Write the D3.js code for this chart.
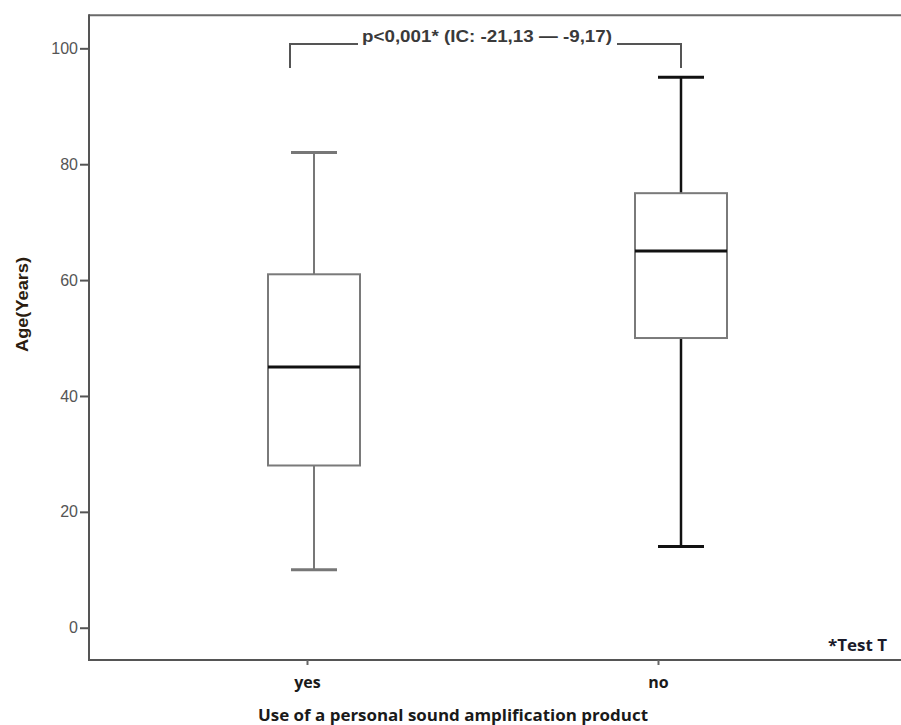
<!DOCTYPE html>
<html><head><meta charset="utf-8">
<script src="https://cdn.jsdelivr.net/npm/d3@7"></script>
<style>body{margin:0;background:#fff}svg{display:block}</style>
</head><body>
<script>
const categories = ["yes", "no"];
const minVals = [10, 14];
const q1Vals = [28, 50];
const medianVals = [45, 65];
const q3Vals = [61, 75];
const maxVals = [82, 95];
const yTicks = [0, 20, 40, 60, 80, 100];
const yTickLabels = ["0", "20", "40", "60", "80", "100"];
const xTitle = "Use of a personal sound amplification  product";
const yTitle = "Age(Years)";
const annotation = "p<0,001* (IC: -21,13 \u2014 -9,17)";
const footnote = "*Test T";

(function () {
const W = 901, H = 725;
const svg = d3.select("body").append("svg").attr("width", W).attr("height", H);

const plotLeft = 89, plotTop = 15.3, plotBottom = 660;
const y = d3.scaleLinear().domain([-5.57, 105.7]).range([plotBottom, plotTop]);
const x = d3.scalePoint().domain(categories).range([314, 681]);
const xAxisPos = d3.scalePoint().domain(categories).range([307, 658]);
const boxW = 92, capW = 46;

const data = categories.map((c, i) => ({c, i, min: minVals[i], q1: q1Vals[i], med: medianVals[i], q3: q3Vals[i], max: maxVals[i]}));

// frame
svg.append("line").attr("x1", plotLeft).attr("x2", W).attr("y1", plotTop).attr("y2", plotTop)
  .attr("stroke", "#6a6a6a").attr("stroke-width", 2);
svg.append("line").attr("x1", plotLeft).attr("x2", plotLeft).attr("y1", plotTop - 1).attr("y2", plotBottom + 1)
  .attr("stroke", "#555").attr("stroke-width", 2);
svg.append("line").attr("x1", plotLeft).attr("x2", W).attr("y1", plotBottom).attr("y2", plotBottom)
  .attr("stroke", "#555").attr("stroke-width", 2);

// y axis
const yAxis = d3.axisLeft(y).tickValues(yTicks).tickFormat((d, i) => yTickLabels[i]).tickSize(9).tickPadding(2);
const gy = svg.append("g").attr("transform", `translate(${plotLeft},0)`).call(yAxis);
gy.select(".domain").remove();
gy.selectAll(".tick line").attr("stroke", "#555").attr("stroke-width", 2);
gy.selectAll(".tick text").attr("fill", "#555").style("font-family", "Liberation Sans, Arial, sans-serif").style("font-size", "16px");

// x axis
const xAxis = d3.axisBottom(xAxisPos).tickSize(5).tickPadding(12);
const gx = svg.append("g").attr("transform", `translate(0,${plotBottom})`).call(xAxis);
gx.select(".domain").remove();
gx.selectAll(".tick line").attr("stroke", "#666").attr("stroke-width", 2);
gx.selectAll(".tick text").attr("fill", "#1a1a1a").style("font-family", "Open Sans, sans-serif")
  .style("font-weight", "bold").style("font-size", "16px");

// boxes
const whiskColor = ["#777", "#111"];
const whiskW = [2, 2.5];
const g = svg.append("g");
data.forEach(d => {
  const cx = x(d.c);
  g.append("line").attr("x1", cx).attr("x2", cx).attr("y1", y(d.max)).attr("y2", y(d.q3))
    .attr("stroke", whiskColor[d.i]).attr("stroke-width", whiskW[d.i]);
  g.append("line").attr("x1", cx).attr("x2", cx).attr("y1", y(d.q1)).attr("y2", y(d.min))
    .attr("stroke", whiskColor[d.i]).attr("stroke-width", whiskW[d.i]);
  g.append("line").attr("x1", cx - capW / 2).attr("x2", cx + capW / 2).attr("y1", y(d.max)).attr("y2", y(d.max))
    .attr("stroke", whiskColor[d.i]).attr("stroke-width", 3);
  g.append("line").attr("x1", cx - capW / 2).attr("x2", cx + capW / 2).attr("y1", y(d.min)).attr("y2", y(d.min))
    .attr("stroke", whiskColor[d.i]).attr("stroke-width", 3);
  g.append("rect").attr("x", cx - boxW / 2).attr("y", y(d.q3)).attr("width", boxW).attr("height", y(d.q1) - y(d.q3))
    .attr("fill", "#fff").attr("stroke", "#7a7a7a").attr("stroke-width", 2);
  g.append("line").attr("x1", cx - boxW / 2).attr("x2", cx + boxW / 2).attr("y1", y(d.med)).attr("y2", y(d.med))
    .attr("stroke", "#111").attr("stroke-width", 3);
});

// bracket annotation
const by = 44, bEnd = 68;
const xl = x("yes") - 24, xr = x("no");
svg.append("path").attr("d", `M${xl},${bEnd}V${by}H358`).attr("fill", "none").attr("stroke", "#555").attr("stroke-width", 2);
svg.append("path").attr("d", `M617,${by}H${xr}V${bEnd}`).attr("fill", "none").attr("stroke", "#555").attr("stroke-width", 2);
svg.append("text").attr("x", 362).attr("y", 42)
  .attr("textLength", 250).attr("lengthAdjust", "spacingAndGlyphs")
  .attr("fill", "#3a3a3a").style("font-family", "Liberation Sans, Arial, sans-serif")
  .style("font-weight", "bold").style("font-size", "17px").text(annotation);

// footnote
svg.append("text").attr("x", 828).attr("y", 651)
  .attr("textLength", 59).attr("lengthAdjust", "spacingAndGlyphs")
  .attr("fill", "#1a1a2a").style("font-family", "Open Sans, sans-serif").style("font-weight", "bold")
  .style("font-size", "16px").text(footnote);

// titles
svg.append("text").attr("x", 258).attr("y", 721)
  .attr("textLength", 390).attr("lengthAdjust", "spacingAndGlyphs")
  .attr("fill", "#1a1a1a").style("font-family", "Open Sans, sans-serif").style("font-weight", "bold")
  .style("font-size", "16px").text(xTitle);
svg.append("text").attr("transform", "translate(28,352) rotate(-90)")
  .attr("textLength", 95).attr("lengthAdjust", "spacingAndGlyphs")
  .attr("fill", "#2b1d10").style("font-family", "Liberation Sans, Arial, sans-serif").style("font-weight", "bold")
  .style("font-size", "16px").text(yTitle);
})();
</script>
</body></html>
